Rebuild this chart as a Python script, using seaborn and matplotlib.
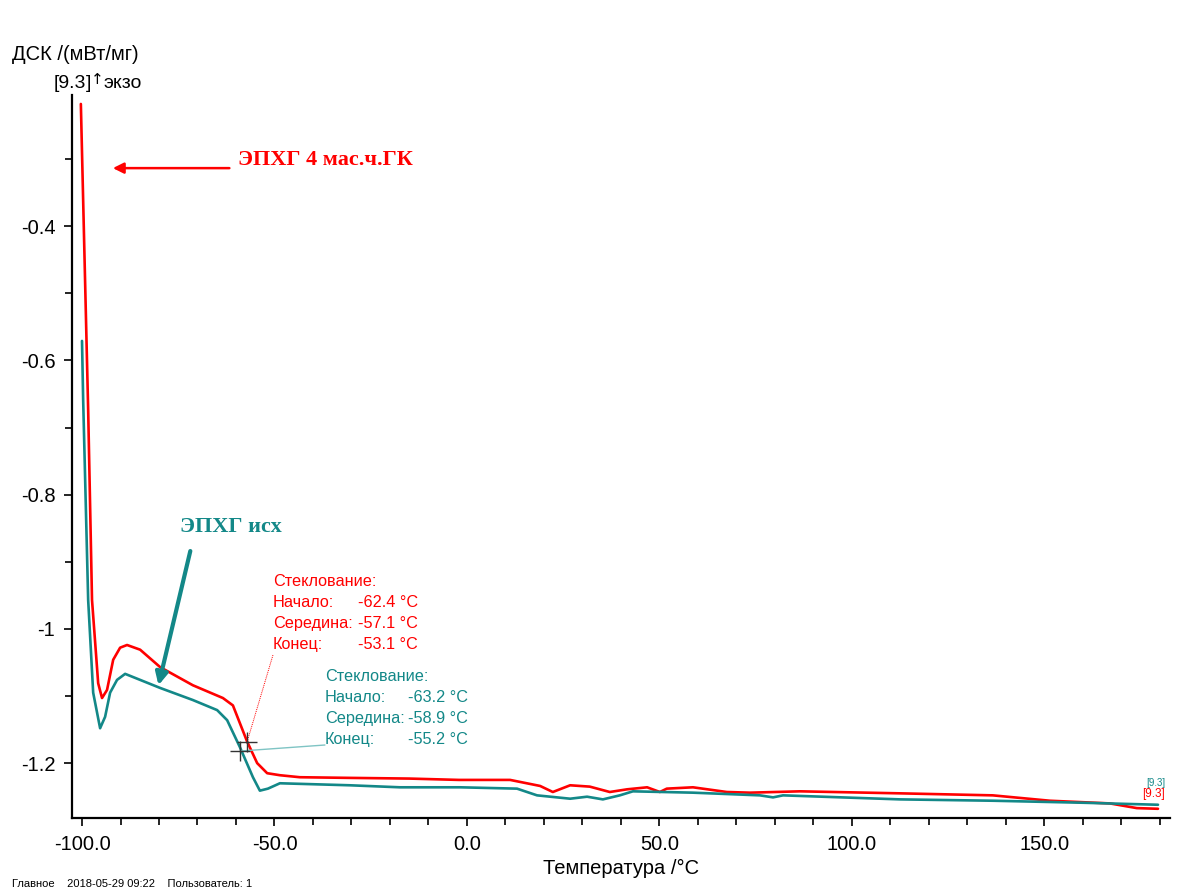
import matplotlib
matplotlib.use("Agg")
import matplotlib.pyplot as plt
import seaborn as sns
import pandas as pd
from matplotlib.ticker import MultipleLocator, FixedLocator, FixedFormatter

# ---- data ----
red_T = [-100.3, -98.4, -97.4, -95.8, -94.8, -93.5, -91.9, -90.1, -88.3, -84.9,
         -79.7, -71.2, -63.4, -60.8, -57.1, -54.5, -51.9, -48.6, -43.4, -30.0,
         -15.0, -2.1, 11.2, 19.0, 22.3, 26.8, 31.9, 37.1, 41.6, 46.8,
         50.1, 51.9, 58.7, 67.5, 73.5, 86.5, 112.5, 136.6, 151.4, 167.0,
         174.0, 179.5]
red_v = [-0.218, -0.674, -0.957, -1.081, -1.103, -1.091, -1.046, -1.028, -1.024, -1.031,
         -1.057, -1.084, -1.103, -1.114, -1.168, -1.200, -1.215, -1.218, -1.221, -1.222,
         -1.223, -1.225, -1.225, -1.234, -1.243, -1.233, -1.235, -1.243, -1.239, -1.236,
         -1.243, -1.238, -1.236, -1.243, -1.244, -1.242, -1.245, -1.248, -1.256, -1.260,
         -1.267, -1.268]

teal_T = [-100.0, -99.7, -98.4, -97.1, -95.3, -94.0, -92.7, -90.9, -88.8, -79.7,
          -71.2, -64.9, -62.3, -59.0, -55.6, -53.8, -51.7, -48.6, -30.4, -17.4,
          -1.8, 13.0, 18.2, 26.8, 31.2, 35.3, 39.7, 43.1, 58.7, 76.1,
          79.5, 82.1, 112.5, 136.6, 160.0, 179.5]
teal_v = [-0.571, -0.659, -0.957, -1.095, -1.148, -1.131, -1.095, -1.076, -1.067, -1.088,
          -1.106, -1.121, -1.136, -1.176, -1.221, -1.241, -1.238, -1.230, -1.233, -1.236,
          -1.236, -1.238, -1.248, -1.253, -1.250, -1.254, -1.248, -1.242, -1.244, -1.248,
          -1.251, -1.248, -1.254, -1.256, -1.259, -1.262]

x_ticks = [-100, -50, 0, 50, 100, 150]
x_tick_labels = ["-100.0", "-50.0", "0.0", "50.0", "100.0", "150.0"]
y_ticks = [-0.4, -0.6, -0.8, -1.0, -1.2]
y_tick_labels = ["-0.4", "-0.6", "-0.8", "-1", "-1.2"]

red_name = "ЭПХГ 4 мас.ч.ГК"
teal_name = "ЭПХГ исх"
red_tg_labels = ["Стеклование:", "Начало:", "Середина:", "Конец:"]
red_tg_values = ["", "-62.4 °C", "-57.1 °C", "-53.1 °C"]
teal_tg_labels = ["Стеклование:", "Начало:", "Середина:", "Конец:"]
teal_tg_values = ["", "-63.2 °C", "-58.9 °C", "-55.2 °C"]
red_mid = (-57.1, -1.168)
teal_mid = (-58.9, -1.182)

RED = "#ff0000"
TEAL = "#138888"

sns.set_theme(style="white")
plt.rcParams['font.family'] = ['Liberation Sans', 'DejaVu Sans']

fig = plt.figure(figsize=(11.96, 8.90), dpi=100)
ax = fig.add_axes([0.0602, 0.081, 0.918, 0.812])

df_red = pd.DataFrame({"T": red_T, "v": red_v})
df_teal = pd.DataFrame({"T": teal_T, "v": teal_v})
sns.lineplot(data=df_red, x="T", y="v", ax=ax, color=RED, lw=1.9, estimator=None)
sns.lineplot(data=df_teal, x="T", y="v", ax=ax, color=TEAL, lw=1.9, estimator=None)

ax.set_xlim(-102.6, 182.6)
ax.set_ylim(-1.2816, -0.205)

for s in ["top", "right"]:
    ax.spines[s].set_visible(False)
for s in ["left", "bottom"]:
    ax.spines[s].set_color("black")
    ax.spines[s].set_linewidth(1.6)

ax.xaxis.set_major_locator(FixedLocator(x_ticks))
ax.xaxis.set_major_formatter(FixedFormatter(x_tick_labels))
ax.xaxis.set_minor_locator(MultipleLocator(10))
ax.yaxis.set_major_locator(FixedLocator(y_ticks))
ax.yaxis.set_major_formatter(FixedFormatter(y_tick_labels))
ax.yaxis.set_minor_locator(MultipleLocator(0.1))
ax.tick_params(which="both", direction="out", color="black", width=1.2,
               bottom=True, left=True, labelsize=14.5, labelcolor="black")
ax.tick_params(which="major", length=6, pad=6)
ax.tick_params(which="minor", length=5)
ax.grid(False)
ax.set_xlabel("Температура /°C", fontsize=14.5, color="black", labelpad=4)
ax.set_ylabel("")

# header texts
fig.text(12/1196, 1-55/890, "ДСК /(мВт/мг)", fontsize=14.5, va="center", ha="left", color="black")
fig.text(54/1196, 1-83/890, "[9.3", fontsize=14, va="center", ha="left", color="black")
fig.text(86/1196, 1-83/890, "]", fontsize=14, va="center", ha="left", color="black")
fig.text(91/1196, 1-80/890, "↑", fontsize=11, va="center", ha="left", color="black",
         family=['DejaVu Sans'])
fig.text(103/1196, 1-84/890, "экзо", fontsize=14, va="center", ha="left", color="black")
fig.text(12/1196, 1-884/890, "Главное    2018-05-29 09:22    Пользователь: 1",
         fontsize=8, va="center", ha="left", color="black")

# curve names with arrows
ax.text(-59.5, -0.302, red_name, color=RED, fontsize=16, fontweight="bold",
        family=['Liberation Serif'], va="center", ha="left")
ax.annotate("", xy=(-92.7, -0.3136), xytext=(-61.0, -0.3136),
            arrowprops=dict(arrowstyle="-|>", color=RED, lw=1.8, mutation_scale=16))
ax.text(-74.5, -0.848, teal_name, color=TEAL, fontsize=16, fontweight="bold",
        family=['Liberation Serif'], va="center", ha="left")
ax.annotate("", xy=(-80.3, -1.088), xytext=(-71.7, -0.880),
            arrowprops=dict(arrowstyle="-|>", color=TEAL, lw=3, mutation_scale=18))

# glass transition annotations
def tg_block(x_lab, x_val, y_top, labels, values, color):
    step = 0.0312
    for i, (l, v) in enumerate(zip(labels, values)):
        ax.text(x_lab, y_top - i*step, l, color=color, fontsize=11.7, va="center", ha="left")
        if v:
            ax.text(x_val, y_top - i*step, v, color=color, fontsize=11.7, va="center", ha="left")

tg_block(-50.4, -28.4, -0.930, red_tg_labels, red_tg_values, RED)
tg_block(-36.9, -15.2, -1.071, teal_tg_labels, teal_tg_values, TEAL)

ax.plot([-50.4, red_mid[0]], [-1.039, red_mid[1]], color=RED, lw=0.7, ls=(0, (1, 1)))
ax.plot([-36.9, teal_mid[0]], [-1.173, teal_mid[1]], color="#7fc4c4", lw=1.0)
ax.plot([red_mid[0]], [red_mid[1]], marker="+", ms=14, mew=1.0, color="#333333")
ax.plot([teal_mid[0]], [teal_mid[1]], marker="+", ms=14, mew=1.0, color="#333333")

# end markers
ax.text(178.3, -1.246, "[9.3]", color=RED, fontsize=8.5, ha="center", va="center")
ax.text(179.0, -1.229, "[9.3]", color=TEAL, fontsize=7, ha="center", va="center")

fig.savefig("out.png", dpi=100, facecolor="white")
